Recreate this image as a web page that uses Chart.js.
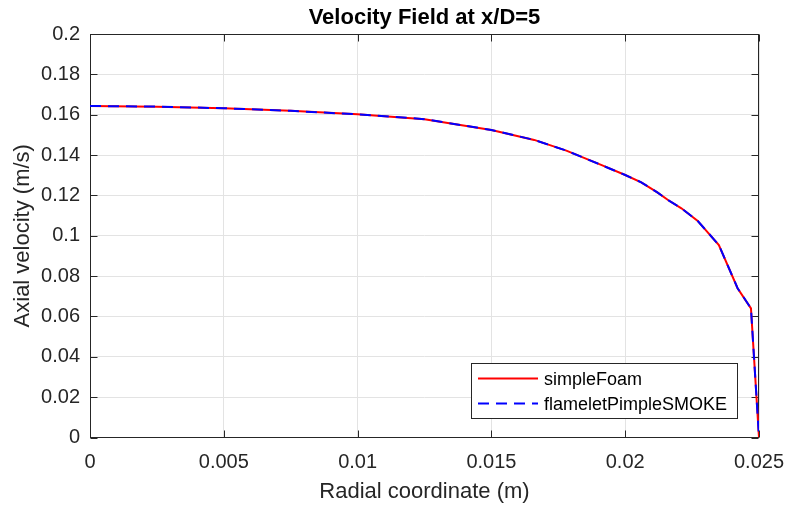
<!DOCTYPE html>
<html><head><meta charset="utf-8">
<script src="https://cdn.jsdelivr.net/npm/chart.js@4/dist/chart.umd.min.js"></script>
<style>html,body{margin:0;padding:0;background:#fff;}#wrap{width:787px;height:509px;}</style>
</head><body><div id="wrap"><canvas id="c" width="787" height="509"></canvas></div>
<script>
// ---- data ----
const radialX = [0, 0.0025, 0.005, 0.0075, 0.01, 0.0125, 0.015, 0.0166, 0.0178, 0.0191, 0.02, 0.0206, 0.0212, 0.0216, 0.0221, 0.0227, 0.0235, 0.0242, 0.0247, 0.025];
const simpleFoamY = [0.1643, 0.1640, 0.1632, 0.1619, 0.1602, 0.1578, 0.1524, 0.1475, 0.1422, 0.1351, 0.1301, 0.1265, 0.1215, 0.1177, 0.1136, 0.1075, 0.0954, 0.0740, 0.0640, 0];
const flameletY   = [0.1643, 0.1640, 0.1632, 0.1619, 0.1602, 0.1578, 0.1524, 0.1475, 0.1422, 0.1351, 0.1301, 0.1265, 0.1215, 0.1177, 0.1136, 0.1075, 0.0954, 0.0740, 0.0640, 0];
const seriesNames = ['simpleFoam', 'flameletPimpleSMOKE'];
const xTicks = [0, 0.005, 0.01, 0.015, 0.02, 0.025];
const xTickLabels = ['0', '0.005', '0.01', '0.015', '0.02', '0.025'];
const yTicks = [0, 0.02, 0.04, 0.06, 0.08, 0.1, 0.12, 0.14, 0.16, 0.18, 0.2];
const yTickLabels = ['0', '0.02', '0.04', '0.06', '0.08', '0.1', '0.12', '0.14', '0.16', '0.18', '0.2'];
const titleText = 'Velocity Field at x/D=5';
const xTitle = 'Radial coordinate (m)';
const yTitle = 'Axial velocity (m/s)';

const FONT = "'Liberation Sans', Arial, Helvetica, sans-serif";
const AXC = '#262626';
const toPts = ys => radialX.map((x, i) => ({x: x, y: ys[i]}));

const boxPlugin = {
  id: 'boxPlugin',
  beforeDatasetsDraw(chart) {
    const {ctx, chartArea: a, scales: {x, y}} = chart;
    ctx.save();
    ctx.strokeStyle = AXC; ctx.lineWidth = 1;
    const L = Math.round(a.left) + 0.5, R = Math.round(a.right) - 0.5;
    const T = Math.round(a.top) + 0.5, B = Math.round(a.bottom) - 0.5;
    ctx.strokeRect(L, T, R - L, B - T);
    ctx.beginPath();
    xTicks.forEach(v => {
      const p = Math.round(x.getPixelForValue(v)) + 0.5;
      ctx.moveTo(p, B); ctx.lineTo(p, B - 7);
      ctx.moveTo(p, T); ctx.lineTo(p, T + 7);
    });
    yTicks.forEach(v => {
      const p = Math.round(y.getPixelForValue(v)) + 0.5;
      ctx.moveTo(L, p); ctx.lineTo(L + 7, p);
      ctx.moveTo(R, p); ctx.lineTo(R - 7, p);
    });
    ctx.stroke();
    ctx.restore();
  },
  afterDraw(chart) {
    const {ctx, chartArea: a} = chart;
    const bx = Math.round(a.right) - 287.5, by = Math.round(a.bottom) - 74.5, bw = 266, bh = 55;
    ctx.save();
    ctx.fillStyle = '#fff';
    ctx.fillRect(bx, by, bw, bh);
    ctx.strokeStyle = AXC; ctx.lineWidth = 1;
    ctx.strokeRect(bx, by, bw, bh);
    const ds = chart.data.datasets;
    const rows = [by + 15, by + 40];
    [1, 0].forEach((di, r) => {
      const d = ds[di];
      ctx.strokeStyle = d.borderColor; ctx.lineWidth = 2;
      ctx.setLineDash(d.borderDash || []);
      ctx.beginPath();
      ctx.moveTo(bx + 6.5, rows[r]); ctx.lineTo(bx + 66.5, rows[r]);
      ctx.stroke();
      ctx.setLineDash([]);
      ctx.fillStyle = '#000';
      ctx.font = '18px ' + FONT;
      ctx.textBaseline = 'middle'; ctx.textAlign = 'left';
      ctx.fillText(d.label, bx + 72.5, rows[r] + 2);
    });
    ctx.restore();
  }
};

new Chart(document.getElementById('c'), {
  type: 'line',
  data: {
    datasets: [
      {label: seriesNames[1], data: toPts(flameletY), borderColor: '#0000ff', borderWidth: 2, borderDash: [11, 7], pointRadius: 0, tension: 0, fill: false, order: 1},
      {label: seriesNames[0], data: toPts(simpleFoamY), borderColor: '#ff0000', borderWidth: 2, pointRadius: 0, tension: 0, fill: false, order: 2}
    ]
  },
  options: {
    responsive: false,
    animation: false,
    devicePixelRatio: 1,
    layout: {padding: {left: 0, right: 28, top: 0, bottom: 0}},
    plugins: {
      legend: {display: false},
      tooltip: {enabled: false},
      title: {display: true, text: titleText, fullSize: false, color: '#000',
        font: {family: FONT, size: 22, weight: 'bold', lineHeight: 1.2},
        padding: {top: 5, bottom: 2.6}}
    },
    scales: {
      x: {
        type: 'linear', min: 0, max: 0.025,
        afterBuildTicks: s => { s.ticks = xTicks.map(v => ({value: v})); },
        afterFit: s => { s.height = 71.5; s.paddingLeft = 0; s.paddingRight = 0; },
        ticks: {callback: v => xTickLabels[xTicks.indexOf(v)] ?? '', color: AXC, padding: 13, maxRotation: 0, autoSkip: false,
          font: {family: FONT, size: 20}},
        grid: {color: '#e3e3e3', lineWidth: 1, drawTicks: false},
        border: {display: false},
        title: {display: true, text: xTitle, color: AXC, font: {family: FONT, size: 22, lineHeight: 1.2}, padding: {top: 0, bottom: 3.8}}
      },
      y: {
        type: 'linear', min: 0, max: 0.2,
        afterBuildTicks: s => { s.ticks = yTicks.map(v => ({value: v})); },
        afterFit: s => { s.width = 90; s.paddingTop = 0; s.paddingBottom = 0; },
        ticks: {callback: v => yTickLabels[yTicks.indexOf(v)] ?? '', color: AXC, padding: 10, autoSkip: false,
          font: {family: FONT, size: 20}},
        grid: {color: '#e3e3e3', lineWidth: 1, drawTicks: false},
        border: {display: false},
        title: {display: true, text: yTitle, color: AXC, font: {family: FONT, size: 22, lineHeight: 1.2}, padding: {top: 10, bottom: 0}}
      }
    }
  },
  plugins: [boxPlugin]
});
</script></body></html>
